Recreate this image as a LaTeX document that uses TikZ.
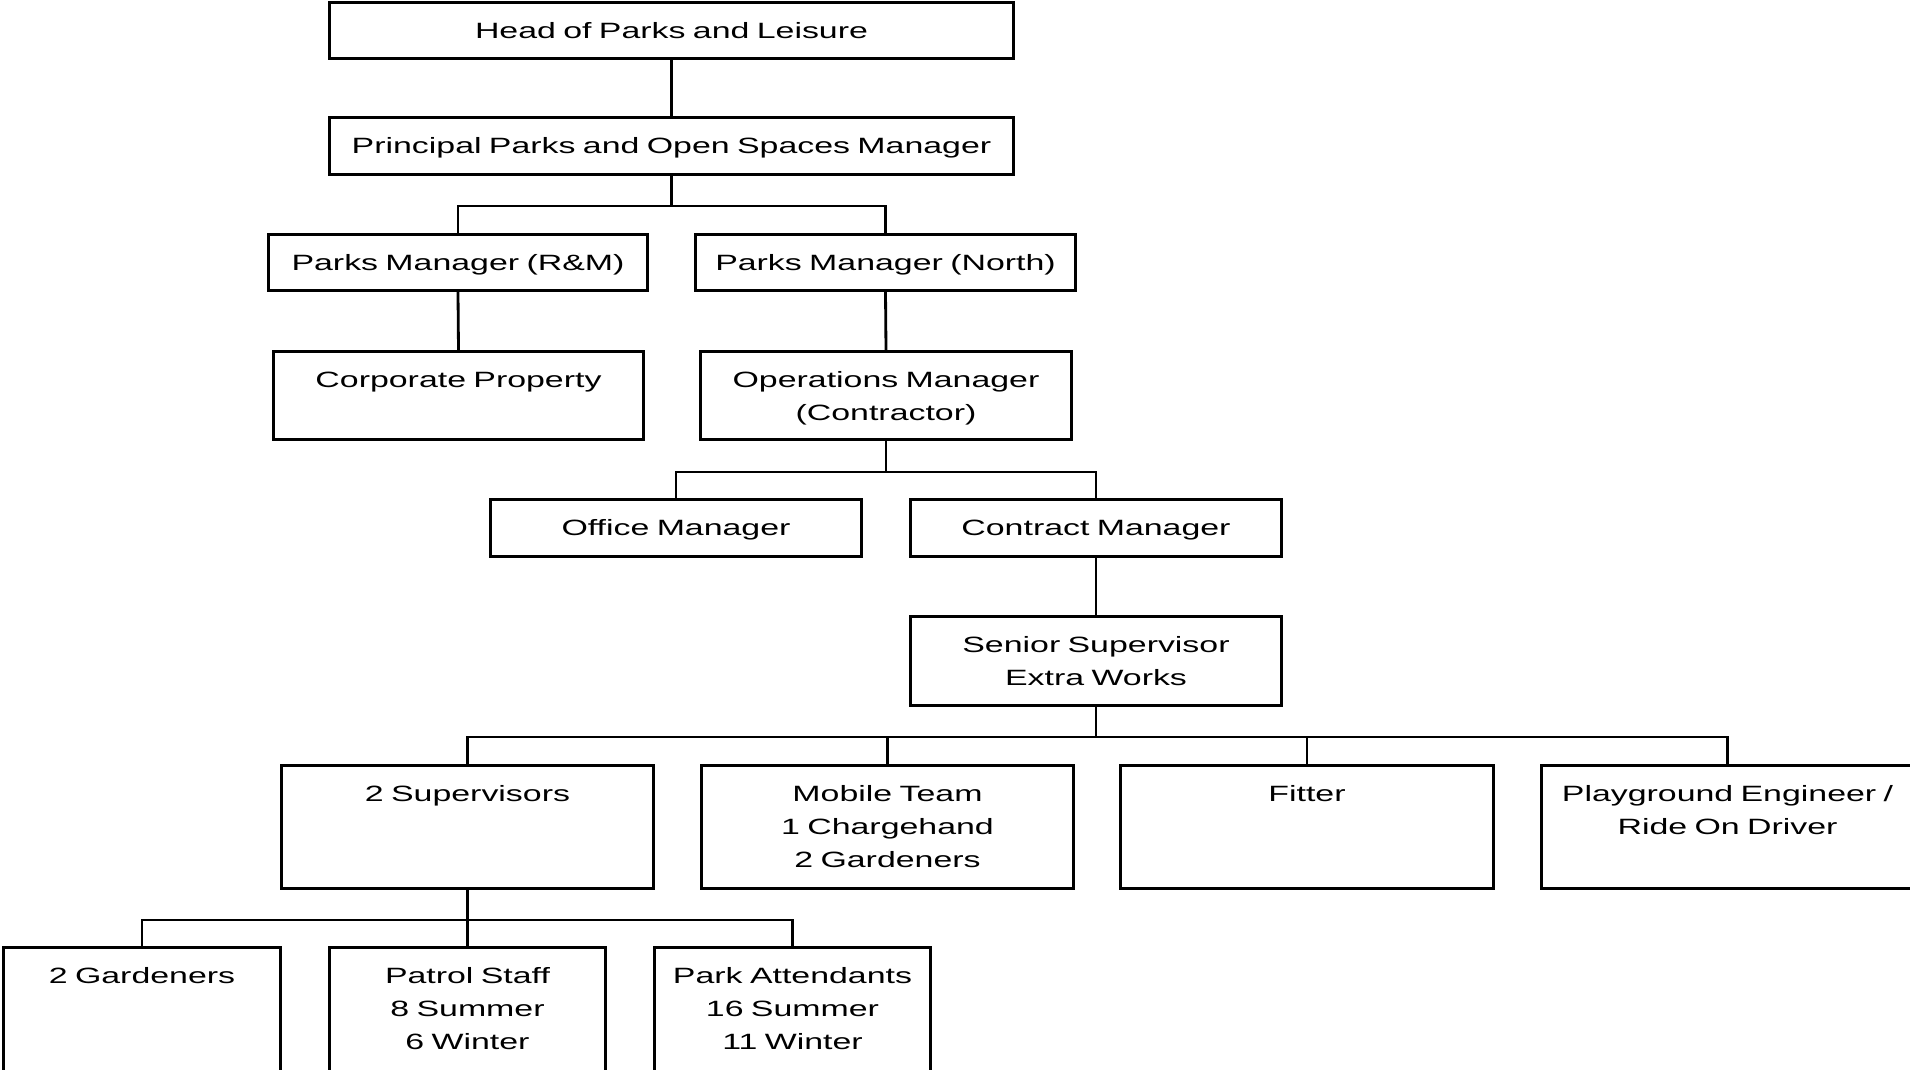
\documentclass[tikz,border=0pt]{standalone}
\usepackage{fontspec}
\setmainfont{Liberation Sans}[FakeStretch=1.53]
\usetikzlibrary{calc}

\begin{document}
\begin{tikzpicture}[x=0.1mm,y=-0.1mm,
    box/.style={draw,line width=0.85pt,inner sep=0pt,anchor=north west,align=center,
      font=\fontsize{6.3}{9.4}\selectfont,text height=3.55mm},
    link/.style={line width=0.8pt}]
  % page size of the chart
  \clip (0,0) rectangle (1910,1069);

  % Management
  \node (head) at (328,1) [box,text width=68.4mm,text depth=2.05mm] {Head of Parks and Leisure};
  \node (prin) at (328,116) [box,text width=68.4mm,text depth=2.15mm] {Principal Parks and Open Spaces Manager};

  \node (pmrm) at (267,233) [box,text width=37.9mm,text depth=2.05mm] {Parks Manager (R\&M)};
  \node (pmn) at (694,233) [box,text width=38.0mm,text depth=2.05mm] {Parks Manager (North)};

  \node (corp) at (272,350) [box,text width=37.0mm,text depth=5.25mm] {Corporate Property};
  \node (ops) at (699,350) [box,text width=37.1mm,text depth=5.25mm] {Operations Manager\\(Contractor)};

  % Contractor side
  \node (office) at (489,498) [box,text width=37.1mm,text depth=2.15mm] {Office Manager};
  \node (contract) at (909,498) [box,text width=37.1mm,text depth=2.15mm] {Contract Manager};

  \node (senior) at (909,615) [box,text width=37.1mm,text depth=5.35mm] {Senior Supervisor\\Extra Works};

  % Teams
  \node (sup) at (280,764) [box,text width=37.2mm,text depth=8.75mm] {2 Supervisors};
  \node (mobile) at (700,764) [box,text width=37.2mm,text depth=8.75mm] {Mobile Team\\1 Chargehand\\2 Gardeners};
  \node (fitter) at (1119,764) [box,text width=37.3mm,text depth=8.75mm] {Fitter};
  \node (play) at (1540,764) [box,text width=37.2mm,text depth=8.75mm] {Playground Engineer /\\Ride On Driver};

  \node (gard) at (2,946) [box,text width=27.7mm,text depth=10.45mm] {2 Gardeners};
  \node (patrol) at (328,946) [box,text width=27.6mm,text depth=10.45mm] {Patrol Staff\\8 Summer\\6 Winter};
  \node (attend) at (653,946) [box,text width=27.6mm,text depth=10.45mm] {Park Attendants\\16 Summer\\11 Winter};

  % Connect boxes
  \draw[link] (head.south) -- (prin.north);
  \draw[link] (prin.south) -- ++(0,30) coordinate (b1) -| (pmrm.north);
  \draw[link] (b1) -| (pmn.north);
  \draw[link] (pmrm.south) -- (corp.north);
  \draw[link] (pmn.south) -- (ops.north);

  \draw[link] (ops.south) -- ++(0,31) coordinate (b2) -| (office.north);
  \draw[link] (b2) -| (contract.north);
  \draw[link] (contract.south) -- (senior.north);

  \draw[link] (senior.south) -- ++(0,30) coordinate (b3);
  \foreach \n in {sup,mobile,fitter,play}
    \draw[link] (b3) -| (\n.north);

  \draw[link] (sup.south) -- ++(0,30) coordinate (b4);
  \foreach \n in {gard,patrol,attend}
    \draw[link] (b4) -| (\n.north);
\end{tikzpicture}
\end{document}
